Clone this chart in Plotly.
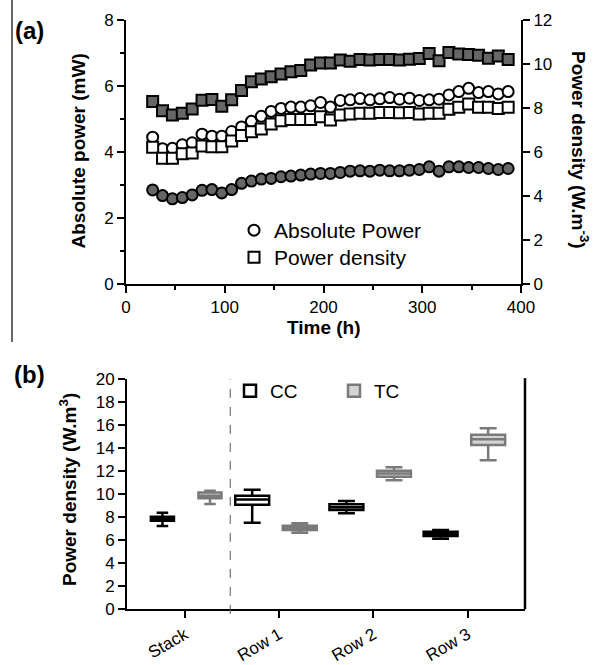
import plotly.graph_objects as go

# ---------------- Data: panel (a) ----------------
time_h = [27, 37, 47, 57, 67, 77, 87, 97, 107, 117, 127, 137, 147, 157, 167, 177, 187,
          197, 207, 217, 227, 237, 247, 257, 267, 277, 287, 297, 307, 317, 327, 337,
          347, 357, 367, 377, 387]

abs_power_open = [4.45, 4.10, 4.11, 4.22, 4.28, 4.54, 4.48, 4.48, 4.62, 4.76, 4.93, 5.08,
                  5.23, 5.32, 5.36, 5.36, 5.40, 5.50, 5.36, 5.56, 5.58, 5.62, 5.58, 5.61,
                  5.65, 5.60, 5.63, 5.56, 5.58, 5.60, 5.73, 5.83, 5.93, 5.80, 5.83, 5.76, 5.83]

abs_power_filled = [2.85, 2.68, 2.58, 2.62, 2.70, 2.84, 2.86, 2.76, 2.86, 3.05, 3.12, 3.18,
                    3.20, 3.25, 3.27, 3.30, 3.33, 3.35, 3.35, 3.38, 3.42, 3.43, 3.42, 3.45,
                    3.43, 3.43, 3.45, 3.47, 3.55, 3.42, 3.55, 3.55, 3.53, 3.53, 3.50, 3.47, 3.50]

pd_open = [6.22, 5.72, 5.72, 5.92, 5.95, 6.27, 6.24, 6.24, 6.50, 6.75, 6.92, 7.05, 7.27,
           7.42, 7.48, 7.48, 7.48, 7.60, 7.45, 7.68, 7.73, 7.76, 7.76, 7.80, 7.80, 7.78,
           7.79, 7.73, 7.76, 7.76, 7.94, 8.03, 8.18, 8.03, 8.03, 7.98, 8.03]

pd_filled = [8.29, 7.88, 7.68, 7.76, 7.95, 8.35, 8.39, 8.08, 8.38, 8.80, 9.19, 9.32, 9.42,
             9.55, 9.65, 9.70, 9.95, 10.05, 10.05, 10.18, 10.12, 10.21, 10.18, 10.20, 10.20,
             10.18, 10.22, 10.25, 10.48, 10.15, 10.52, 10.45, 10.43, 10.40, 10.26, 10.36, 10.21]

# ---------------- Data: panel (b) ----------------
categories = ["Stack", "Row 1", "Row 2", "Row 3"]
cc_min = [7.25, 7.53, 8.35, 6.14]
cc_q1 = [7.70, 9.10, 8.63, 6.37]
cc_med = [7.87, 9.55, 8.87, 6.55]
cc_q3 = [8.05, 9.88, 9.13, 6.75]
cc_max = [8.40, 10.40, 9.42, 6.90]

tc_min = [9.15, 6.66, 11.22, 12.95]
tc_q1 = [9.65, 6.90, 11.53, 14.29]
tc_med = [9.88, 7.12, 11.80, 14.78]
tc_q3 = [10.15, 7.27, 12.05, 15.18]
tc_max = [10.30, 7.48, 12.35, 15.74]

FONT = "Liberation Sans, Arial, sans-serif"
W, H = 595, 665

def px_x(p):
    return p / W

def px_y(p):
    return 1 - p / H

fig = go.Figure()

# panel (a) traces
fig.add_trace(go.Scatter(x=time_h, y=pd_filled, mode="markers", yaxis="y2", xaxis="x",
                         marker=dict(symbol="square", size=11, color="#666666",
                                     line=dict(color="black", width=2)),
                         showlegend=False))
fig.add_trace(go.Scatter(x=time_h, y=abs_power_filled, mode="markers", yaxis="y", xaxis="x",
                         marker=dict(symbol="circle", size=11, color="#666666",
                                     line=dict(color="black", width=2)),
                         showlegend=False))
fig.add_trace(go.Scatter(x=time_h, y=pd_open, mode="markers", yaxis="y2", xaxis="x",
                         name="Power density",
                         marker=dict(symbol="square", size=11, color="white",
                                     line=dict(color="black", width=2)),
                         legend="legend3"))
fig.add_trace(go.Scatter(x=time_h, y=abs_power_open, mode="markers", yaxis="y", xaxis="x",
                         name="Absolute Power",
                         marker=dict(symbol="circle", size=11, color="white",
                                     line=dict(color="black", width=2)),
                         legend="legend"))

# panel (b) boxes
cc_off = [-0.24, -0.287, -0.287, -0.287]
tc_off = [0.265, 0.218, 0.218, 0.218]
idx = list(range(len(categories)))

def add_box(sel, off, qmin, q1, med, q3, qmax, name, line_c, fill_c, width, show):
    fig.add_trace(go.Box(
        x=[idx[i] + off[i] for i in sel],
        lowerfence=[qmin[i] for i in sel], q1=[q1[i] for i in sel],
        median=[med[i] for i in sel], q3=[q3[i] for i in sel],
        upperfence=[qmax[i] for i in sel],
        name=name, legendgroup=name, showlegend=show, legend="legend2",
        xaxis="x3", yaxis="y3", width=width, whiskerwidth=0.5,
        line=dict(color=line_c, width=2.5), fillcolor=fill_c, boxpoints=False,
    ))

add_box([0], cc_off, cc_min, cc_q1, cc_med, cc_q3, cc_max, "CC", "black", "white", 0.245, True)
add_box([1, 2, 3], cc_off, cc_min, cc_q1, cc_med, cc_q3, cc_max, "CC", "black", "white", 0.36, False)
add_box([0], tc_off, tc_min, tc_q1, tc_med, tc_q3, tc_max, "TC", "#7a7a7a", "#d4d4d4", 0.245, True)
add_box([1, 2, 3], tc_off, tc_min, tc_q1, tc_med, tc_q3, tc_max, "TC", "#7a7a7a", "#d4d4d4", 0.36, False)

axis_common = dict(showline=True, linecolor="black", linewidth=2, ticks="outside",
                   tickcolor="black", tickwidth=2, showgrid=False, zeroline=False,
                   tickfont=dict(family=FONT, size=17, color="black"), automargin=False)

legend_font = dict(family=FONT, size=21, color="black")

fig.update_layout(
    width=W, height=H, margin=dict(l=0, r=0, t=0, b=0),
    paper_bgcolor="white", plot_bgcolor="white",
    font=dict(family=FONT, color="black"),
    xaxis=dict(domain=[px_x(126), px_x(521)], range=[0, 400], dtick=100, ticklen=7,
               anchor="y", minor=dict(dtick=50, ticklen=4, ticks="outside", tickcolor="black", tickwidth=2),
               **axis_common),
    yaxis=dict(domain=[px_y(284), px_y(20)], range=[0, 8], dtick=2, ticklen=7, anchor="x",
               minor=dict(dtick=1, ticklen=4, ticks="outside", tickcolor="black", tickwidth=2),
               **axis_common),
    yaxis2=dict(overlaying="y", side="right", range=[0, 12], dtick=2, ticklen=7, anchor="x",
                **axis_common),
    xaxis3=dict(domain=[px_x(127), px_x(525)], range=[-0.616, 3.609], anchor="y3",
                tickvals=idx, ticktext=categories, tickangle=-30, ticklen=7,
                **{k: v for k, v in axis_common.items() if k != "tickfont"},
                tickfont=dict(family=FONT, size=17, color="black")),
    yaxis3=dict(domain=[px_y(609.3), px_y(379.3)], range=[0, 20], dtick=2, ticklen=7,
                anchor="x3", **axis_common),
    legend=dict(x=px_x(234), y=px_y(210), xanchor="left", yanchor="top",
                font=legend_font, bgcolor="rgba(0,0,0,0)", itemsizing="trace"),
    legend3=dict(x=px_x(234), y=px_y(237), xanchor="left", yanchor="top",
                 font=legend_font, bgcolor="rgba(0,0,0,0)", itemsizing="trace"),
    legend2=dict(x=px_x(230), y=px_y(372), xanchor="left", yanchor="top", orientation="h",
                 entrywidth=59, entrywidthmode="pixels",
                 font=dict(family=FONT, size=19, color="black"), bgcolor="rgba(0,0,0,0)"),
    boxgap=0, boxgroupgap=0,
)

annos = [
    dict(text="<b>Absolute power (mW)</b>", x=px_x(78), y=px_y(151.5), textangle=-90,
         font=dict(size=19)),
    dict(text="<b>Power density (W.m<sup>-3</sup>)</b>", x=px_x(580), y=px_y(150), textangle=90,
         font=dict(size=19)),
    dict(text="<b>Time (h)</b>", x=px_x(324.5), y=px_y(327), font=dict(size=19)),
    dict(text="<b>Power density (W.m<sup>3</sup>)</b>", x=px_x(68), y=px_y(490), textangle=-90,
         font=dict(size=19)),
    dict(text="<b>(a)</b>", x=px_x(29), y=px_y(30), font=dict(size=24)),
    dict(text="<b>(b)</b>", x=px_x(29), y=px_y(374), font=dict(size=24)),
]
for a in annos:
    a.update(xref="paper", yref="paper", showarrow=False, xanchor="center", yanchor="middle")
    a["font"] = dict(family=FONT, color="black", **a["font"])
    fig.add_annotation(**a)

# dashed separator between Stack and rows, right border line in (b), left figure rule
fig.add_shape(type="line", xref="x3", yref="y3 domain", x0=0.48, x1=0.48, y0=-0.02, y1=1,
              line=dict(color="#555555", width=1, dash="dash"))
fig.add_shape(type="line", xref="x3 domain", yref="y3 domain", x0=1, x1=1, y0=0, y1=1.005,
              line=dict(color="black", width=2.5))
fig.add_shape(type="line", xref="paper", yref="paper", x0=px_x(12), x1=px_x(12), y0=1,
              y1=px_y(342), line=dict(color="black", width=1.2))

fig.write_html("out.html", config={"displayModeBar": False},
               post_script="document.body.style.margin='0';document.body.style.padding='0';")
